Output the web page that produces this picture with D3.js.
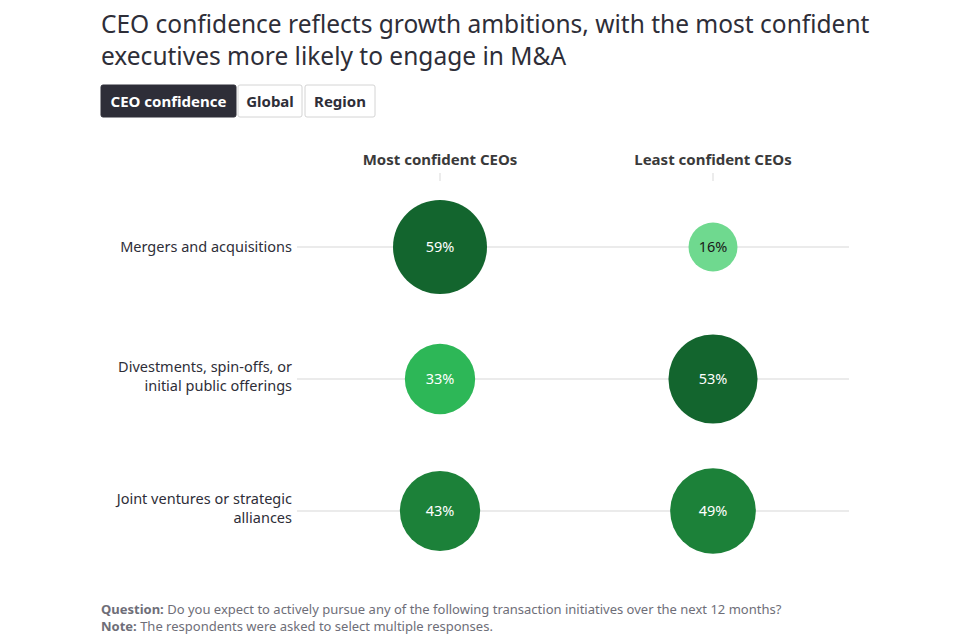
<!DOCTYPE html>
<html><head><meta charset="utf-8">
<script src="https://cdn.jsdelivr.net/npm/d3@7"></script>
<style>
body{margin:0;background:#fff;}
svg{display:block;font-family:"Noto Sans",sans-serif;}
</style></head>
<body><svg id="c" width="978" height="639"></svg>
<script>
const titleLines = ["CEO confidence reflects growth ambitions, with the most confident", "executives more likely to engage in M&A"];
const buttons = ["CEO confidence", "Global", "Region"];
const columns = ["Most confident CEOs", "Least confident CEOs"];
const categories = [["Mergers and acquisitions"], ["Divestments, spin-offs, or", "initial public offerings"], ["Joint ventures or strategic", "alliances"]];
const mostConfident = [59, 33, 43];
const leastConfident = [16, 53, 49];
const footQuestion = "Do you expect to actively pursue any of the following transaction initiatives over the next 12 months?";
const footNote = "The respondents were asked to select multiple responses.";

const svg = d3.select("#c");
const textCol = "#2e2e38";

// Title
svg.append("g").selectAll("text").data(titleLines).join("text")
  .attr("x", 101).attr("y", (d,i)=>33 + i*32)
  .attr("font-size", 24.5).attr("fill", textCol).text(d=>d);

// Buttons
const btnX = [101, 238, 305], btnW = [135, 64, 70];
const bg = svg.append("g").selectAll("g").data(buttons).join("g")
  .attr("transform",(d,i)=>`translate(${btnX[i]},85)`);
bg.append("rect").attr("width",(d,i)=>btnW[i]).attr("height",32).attr("rx",2)
  .attr("fill",(d,i)=>i===0?"#2e2e38":"#fff")
  .attr("stroke",(d,i)=>i===0?"#2e2e38":"#d4d4d4");
bg.append("text").attr("x",(d,i)=>btnW[i]/2).attr("y",21.5).attr("text-anchor","middle")
  .attr("font-size",15).attr("font-weight","bold")
  .attr("fill",(d,i)=>i===0?"#fff":textCol).text(d=>d);

// Scales
const rowKeys = categories.map(d=>d.join(" "));
const y = d3.scalePoint().domain(rowKeys).range([247, 511]);
const x = d3.scalePoint().domain(columns).range([440, 713]);
const r = d3.scaleSqrt().domain([0, 59]).range([0, 47]);
const color = d3.scaleThreshold().domain([25, 40, 50]).range(["#6fd98f", "#2db757", "#1c8139", "#13652e"]);

// Column headers
const hdr = svg.append("g");
hdr.selectAll("text").data(columns).join("text")
  .attr("x", d=>x(d)).attr("y", 165).attr("text-anchor","middle")
  .attr("font-size",15).attr("font-weight","bold").attr("fill","#3a3a3a").text(d=>d);
hdr.selectAll("line").data(columns).join("line")
  .attr("x1", d=>x(d)).attr("x2", d=>x(d)).attr("y1",173).attr("y2",181)
  .attr("stroke","#e6e6e6").attr("stroke-width",1.5);

// Gridlines
svg.append("g").selectAll("line").data(rowKeys).join("line")
  .attr("x1",297).attr("x2",849).attr("y1",d=>y(d)).attr("y2",d=>y(d))
  .attr("stroke","#ebebeb").attr("stroke-width",2);

// Row labels (one text per line)
const labelLines = [];
categories.forEach((d,i)=>{
  const cy = y(rowKeys[i]), n = d.length;
  d.forEach((t,j)=>labelLines.push({t, yy: n>1 ? cy - 7 + j*19 : cy + 5}));
});
svg.append("g").selectAll("text").data(labelLines).join("text")
  .attr("x",292).attr("y",d=>d.yy).attr("text-anchor","end")
  .attr("font-size",14.5).attr("fill",textCol).text(d=>d.t);

// Bubbles
const data = [];
rowKeys.forEach((k,i)=>{
  data.push({row:k, col:columns[0], v:mostConfident[i]});
  data.push({row:k, col:columns[1], v:leastConfident[i]});
});
const b = svg.append("g").selectAll("g").data(data).join("g")
  .attr("transform",d=>`translate(${x(d.col)},${y(d.row)})`);
b.append("circle").attr("r",d=>r(d.v)).attr("fill",d=>color(d.v));
b.append("text").attr("text-anchor","middle").attr("y",5).attr("font-size",14.5)
  .attr("fill",d=>d.v<25?"#1a1a1a":"#fff").text(d=>d.v+"%");

// Footer
const ft = svg.append("g").attr("font-size",13).attr("fill","#6e6e78");
const t1 = ft.append("text").attr("x",101).attr("y",614);
t1.append("tspan").attr("font-weight","bold").text("Question:");
t1.append("tspan").text(" " + footQuestion);
const t2 = ft.append("text").attr("x",101).attr("y",631);
t2.append("tspan").attr("font-weight","bold").text("Note:");
t2.append("tspan").text(" " + footNote);
</script></body></html>
